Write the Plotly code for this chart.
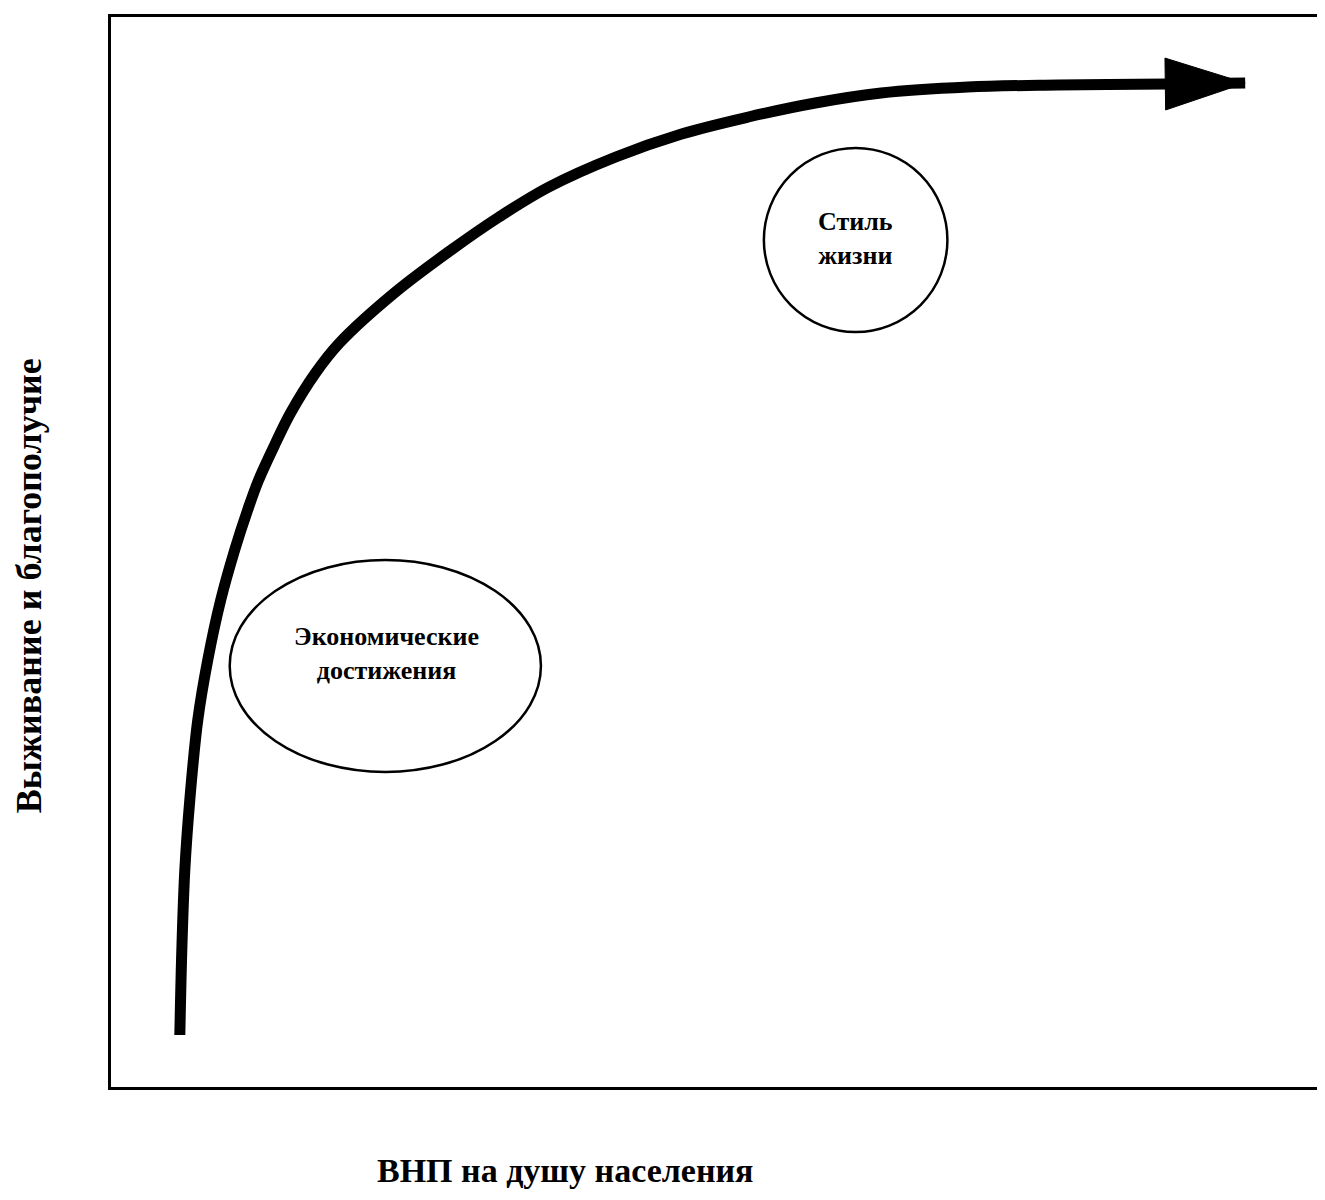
import plotly.graph_objects as go

# Curve: GNP per capita (x) vs survival & well-being (y), arbitrary units
gnp = [69, 71, 74, 79, 87, 97, 110, 124, 137, 148, 165, 180, 205, 229, 284, 341, 389,
       439, 506, 572, 639, 706, 772, 859, 949, 1059, 1137]
wellbeing = [52, 137, 217, 287, 367, 427, 487, 537, 577, 607, 644, 674, 714, 744, 794,
             837, 870, 900, 930, 953, 970, 984, 994, 1000, 1002, 1003, 1004]

# Labelled regions
region_labels = ["Экономические<br>достижения", "Стиль<br>жизни"]
region_cx = [275, 746.5]
region_cy = [421, 847]
region_rx = [156, 92]
region_ry = [106, 92]
label_x = [276, 746]
label_y = [434, 849]

x_title = "ВНП на душу населения"
y_title = "Выживание и благополучие"

fig = go.Figure()
fig.add_trace(go.Scatter(
    x=gnp, y=wellbeing, mode="lines",
    line=dict(color="black", width=11, shape="spline", smoothing=1.0),
    showlegend=False, hoverinfo="skip"))
fig.add_trace(go.Scatter(
    x=gnp[-2:], y=wellbeing[-2:], mode="markers",
    marker=dict(symbol="arrow", size=[0, 84], color="black", angleref="previous",
                opacity=1, line=dict(width=1, color="black")),
    showlegend=False, hoverinfo="skip"))

for cx, cy, rx, ry in zip(region_cx, region_cy, region_rx, region_ry):
    fig.add_shape(type="circle", xref="x", yref="y",
                  x0=cx - rx, x1=cx + rx, y0=cy - ry, y1=cy + ry,
                  line=dict(color="black", width=2.5), fillcolor="rgba(0,0,0,0)")
for lab, lx, ly in zip(region_labels, label_x, label_y):
    fig.add_annotation(x=lx, y=ly, xref="x", yref="y", xanchor="center", yanchor="middle",
                       text="<b>" + lab + "</b>", showarrow=False,
                       font=dict(family="Liberation Serif", size=26, color="black"))

fig.add_annotation(text="<b>" + x_title + "</b>", xref="paper", yref="paper",
                   x=0.377, y=-0.078, xanchor="center", yanchor="middle", showarrow=False,
                   font=dict(family="Liberation Serif", size=34, color="black"))
fig.add_annotation(text="<b>" + y_title + "</b>", xref="paper", yref="paper",
                   x=-0.068, y=0.469, xanchor="center", yanchor="middle", textangle=-90,
                   showarrow=False,
                   font=dict(family="Liberation Serif", size=36, color="black"))

common = dict(showgrid=False, zeroline=False, showticklabels=False, ticks="",
              showline=True, linecolor="black", linewidth=3, mirror=True, fixedrange=True)
fig.update_xaxes(range=[0, 1209], **common)
fig.update_yaxes(range=[0, 1070], **common)
fig.update_layout(width=1317, height=1184, margin=dict(l=103, r=5, t=9, b=105),
                  plot_bgcolor="white", paper_bgcolor="white")
fig.write_html("out.html")
